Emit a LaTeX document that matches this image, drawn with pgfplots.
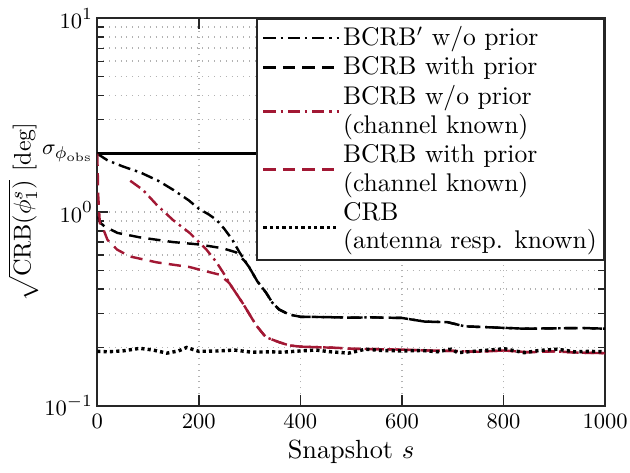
\documentclass[border=0pt]{standalone}
\usepackage{pgfplots}
\pgfplotsset{compat=1.18}
\definecolor{crim}{RGB}{162,24,52}
\definecolor{axgray}{RGB}{38,38,38}
\begin{document}
\begin{tikzpicture}
\begin{axis}[
  scale only axis,
  width=208.6pt, height=159.2pt,
  xmin=0, xmax=1000, ymin=0.1, ymax=10,
  ymode=log,
  xtick={0,200,400,600,800,1000},
  ytick={0.1,1,10},
  minor ytick={0.2,0.3,0.4,0.5,0.6,0.7,0.8,0.9,2,3,4,5,6,7,8,9},
  extra y ticks={2},
  extra y tick labels={$\sigma_{\phi_{\mathrm{obs}}}$},
  extra y tick style={grid=none, tick style={draw=none}},
  /pgf/number format/1000 sep={},
  grid=both,
  major grid style={dotted, gray!60, line width=0.7pt},
  minor grid style={dotted, gray!60, line width=0.7pt},
  axis line style={axgray, line width=0.8pt},
  tick style={axgray, line width=0.6pt},
  tick align=inside,
  xtick pos=both, ytick pos=both,
  xticklabel pos=lower, yticklabel pos=left,
  tick label style={font=\fontsize{9.5}{11}\selectfont},
  xticklabel style={inner xsep=1pt},
  yticklabel style={inner xsep=1.5pt},
  xlabel style={font=\fontsize{10.8}{13}\selectfont, yshift=2pt},
  ylabel style={font=\fontsize{9.8}{12}\selectfont, yshift=-3.5pt},
  xlabel={Snapshot $s$},
  ylabel={$\sqrt{\mathrm{CRB}(\phi_1^s)}$ [deg]},
  legend cell align=left,
  legend style={at={(rel axis cs:1,1)}, anchor=north east, draw=axgray, line width=0.8pt, fill=white,
     inner sep=2pt, row sep=1pt, cells={align=left}, nodes={inner sep=1pt}, font=\fontsize{10.5}{11.8}\selectfont},
  legend image code/.code={\draw[#1] plot coordinates {(0pt,0pt) (15.5pt,0pt) (31pt,0pt)};},
]
\addplot[black, line width=1pt, forget plot] coordinates {(0,2)(1000,2)};
\addplot[black, line width=1pt, dash pattern=on 5pt off 2pt on 1pt off 2pt] coordinates {
(0,2.0)(20,1.85)(50,1.72)(85,1.60)(120,1.45)(150,1.30)(180,1.15)(200,1.04)(220,0.97)(235,0.91)(250,0.82)(266,0.72)(280,0.62)(299,0.52)(315,0.44)(332,0.385)(345,0.34)(358,0.314)(378,0.296)(400,0.288)(450,0.287)(500,0.285)(540,0.286)(600,0.284)(645,0.272)(690,0.270)(724,0.257)(775,0.254)(810,0.252)(841,0.250)(893,0.251)(958,0.252)(1000,0.250)};
\addlegendentry{BCRB$'$ w/o prior}
\addplot[black, line width=1pt, dash pattern=on 5pt off 3pt] coordinates {
(1,0.95)(6,0.88)(15,0.84)(40,0.78)(84,0.74)(149,0.70)(201,0.68)(247,0.65)(273,0.62)(290,0.56)(299,0.52)(315,0.44)(332,0.385)(345,0.34)(358,0.314)(378,0.296)(400,0.288)(450,0.287)(500,0.285)(540,0.286)(600,0.284)(645,0.272)(690,0.270)(724,0.257)(775,0.254)(810,0.252)(841,0.250)(893,0.251)(958,0.252)(1000,0.250)};
\addlegendentry{BCRB with prior}
\addplot[crim, line width=1pt, dash pattern=on 5pt off 2pt on 1pt off 2pt] coordinates {
(65,1.45)(90,1.30)(117,1.09)(149,0.91)(182,0.78)(215,0.64)(235,0.55)(254,0.46)(260,0.43)(286,0.34)(313,0.26)(332,0.226)(358,0.213)(378,0.205)(400,0.202)(450,0.200)(475,0.199)(500,0.197)(550,0.196)(600,0.195)(650,0.193)(700,0.192)(750,0.190)(800,0.193)(850,0.189)(900,0.191)(950,0.188)(1000,0.187)};
\addlegendentry{BCRB w/o prior\\(channel known)}
\addplot[crim, line width=1pt, dash pattern=on 5pt off 3pt] coordinates {
(0,2.0)(2,1.2)(5,0.88)(10,0.84)(20,0.72)(39,0.64)(64,0.59)(117,0.55)(182,0.52)(207,0.50)(241,0.475)(260,0.43)(286,0.34)(313,0.26)(332,0.226)(358,0.213)(378,0.205)(400,0.202)(450,0.200)(475,0.199)(500,0.197)(550,0.196)(600,0.195)(650,0.193)(700,0.192)(750,0.190)(800,0.193)(850,0.189)(900,0.191)(950,0.188)(1000,0.187)};
\addlegendentry{BCRB with prior\\(channel known)}
\addplot[black, line width=1.4pt, dash pattern=on 1.3pt off 1.3pt] coordinates {
(0,0.191)(20,0.190)(50,0.192)(84,0.198)(110,0.194)(137,0.187)(160,0.192)(176,0.200)(200,0.191)(240,0.192)(270,0.194)(305,0.189)(340,0.190)(364,0.189)(400,0.192)(430,0.194)(460,0.190)(495,0.187)(528,0.196)(560,0.193)(600,0.192)(640,0.193)(670,0.190)(697,0.196)(710,0.188)(750,0.192)(802,0.197)(841,0.188)(870,0.193)(906,0.196)(940,0.190)(970,0.191)(1000,0.190)};
\addlegendentry{CRB\\(antenna resp. known)}
\end{axis}
\end{tikzpicture}
\end{document}
